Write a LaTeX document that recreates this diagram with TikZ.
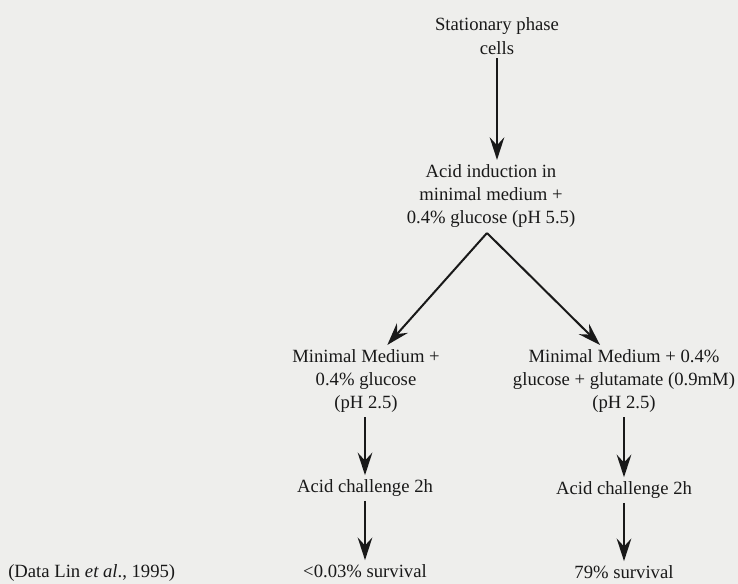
\documentclass[tikz,border=0pt]{standalone}
\usepackage{fontspec}
\setmainfont{Liberation Serif}
\usetikzlibrary{arrows.meta}

\definecolor{paper}{RGB}{238,238,236}
\definecolor{ink}{RGB}{25,25,25}

\begin{document}
\begin{tikzpicture}[x=0.75pt, y=-0.75pt,
  stage/.style={align=center, text=ink, inner sep=3pt, font={\fontsize{14}{17.5}\selectfont}},
  flow/.style={draw=ink, line width=1.5pt, -{Stealth[length=17pt, width=11pt, inset=6pt]}}]

\fill [paper] (0,0) rectangle (738,584);
\useasboundingbox (0,0) rectangle (738,584);

\node [stage] (stat) at (497, 36) {Stationary phase\\cells};

\node [stage] (induct) at (491, 196) {Acid induction in\\minimal medium +\\0.4\% glucose (pH 5.5)};

\coordinate (fork) at (487, 233);

\node [stage] (mmleft) at (366, 381) {Minimal Medium +\\0.4\% glucose\\(pH 2.5)};

\node [stage] (mmright) at (624, 381) {Minimal Medium + 0.4\%\\glucose + glutamate (0.9mM)\\(pH 2.5)};

\node [stage] (chalL) at (365, 488) {Acid challenge 2h};

\node [stage] (chalR) at (624, 490) {Acid challenge 2h};

\node [stage] (survL) at (365, 571) {<0.03\% survival};

\node [stage] (survR) at (624, 572) {79\% survival};

\node [stage, anchor=west] (source) at (4, 573) {(Data Lin \textit{et al}., 1995)};

\draw [flow] (stat.south) -- (stat.south |- induct.north);
\draw [flow] (fork) -- ([xshift=16pt]mmleft.north);
\draw [flow] (fork) -- ([xshift=-18pt]mmright.north);
\draw [flow] (mmleft.south -| chalL.north) -- (chalL);
\draw [flow] (mmright.south -| chalR.north) -- (chalR);
\draw [flow] (chalL) -- (survL);
\draw [flow] (chalR) -- (survR);

\end{tikzpicture}
\end{document}
